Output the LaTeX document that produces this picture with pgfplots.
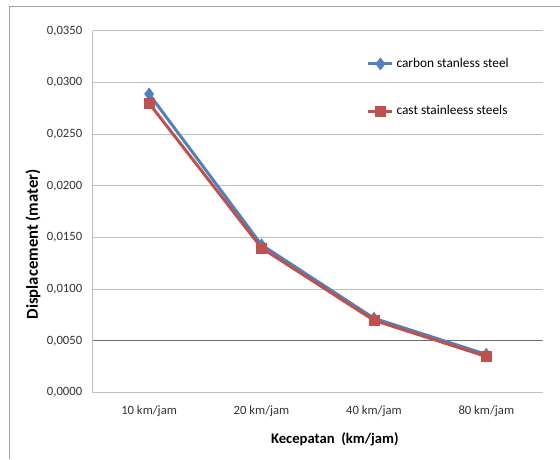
\documentclass[border=0pt]{standalone}
\usepackage{pgfplots}
\pgfplotsset{compat=1.18}
\usepackage{fontspec}
\setmainfont{Carlito}

\definecolor{exblue}{HTML}{4F81BD}
\definecolor{exred}{HTML}{C0504D}
\definecolor{gridgray}{HTML}{BFBFBF}
\definecolor{framegray}{HTML}{A6A6A6}

\begin{document}
\begin{tikzpicture}
% page area and the chart frame (left and top edges)
\path (0pt,0pt) rectangle (420pt,344.25pt);
\draw[framegray, line width=0.75pt] (7.5pt,0pt) -- (7.5pt,339pt) -- (420pt,339pt);

\begin{axis}[
  at={(69.75pt,49.5pt)}, anchor=south west,
  scale only axis, width=337.5pt, height=271.5pt,
  xmin=-0.5, xmax=3.5, ymin=0, ymax=0.035,
  xtick=data,
  xticklabels={10 km/jam, 20 km/jam, 40 km/jam, 80 km/jam},
  ytick={0,0.005,...,0.0351},
  scaled y ticks=false,
  /pgf/number format/assume math mode=true,
  yticklabel style={/pgf/number format/fixed, /pgf/number format/fixed zerofill,
    /pgf/number format/precision=4, /pgf/number format/use comma, xshift=-4.5pt},
  major tick length=0pt,
  axis x line*=bottom, axis y line*=left,
  axis line style={gridgray, line width=0.75pt},
  ymajorgrids, grid style={gridgray, line width=0.75pt},
  tick label style={font=\fontsize{9.5}{11}\selectfont, text=black!80},
  xticklabel style={yshift=-6pt},
  xlabel={Kecepatan\ \ (km/jam)},
  ylabel={Displacement (mater)},
  every axis x label/.style={at={(rel axis cs:0.538,-0.13)}, anchor=center, font=\fontsize{11}{13}\selectfont\bfseries},
  every axis y label/.style={at={(rel axis cs:-0.1333,0.41)}, anchor=center, rotate=90, font=\fontsize{12.5}{14}\selectfont\bfseries},
  legend cell align=left,
  legend style={at={(rel axis cs:0.6,0.94)}, anchor=north west, draw=none, fill=none,
    font=\fontsize{10}{12}\selectfont, row sep=23pt},
  legend image code/.code={%
    \draw[#1, mark repeat=2, mark phase=2] plot coordinates {(0pt,0pt) (9pt,0pt) (18pt,0pt)};},
]
% the 0,0050 gridline is drawn darker in the chart
\draw[gray!85!black, line width=0.75pt] (axis cs:-0.5,0.005) -- (axis cs:3.5,0.005);

\addplot[exblue, line width=2.25pt, mark=diamond*, mark size=4.5pt,
  mark options={solid, fill=exblue, line width=0.5pt}]
  coordinates {(0,0.0289) (1,0.0143) (2,0.0072) (3,0.0037)};
\addlegendentry{carbon stanless steel}

\addplot[exred, line width=2.25pt, mark=square*, mark size=3.75pt,
  mark options={solid, fill=exred, line width=0.5pt}]
  coordinates {(0,0.0280) (1,0.0140) (2,0.0070) (3,0.0035)};
\addlegendentry{cast stainleess steels}
\end{axis}
\end{tikzpicture}
\end{document}
